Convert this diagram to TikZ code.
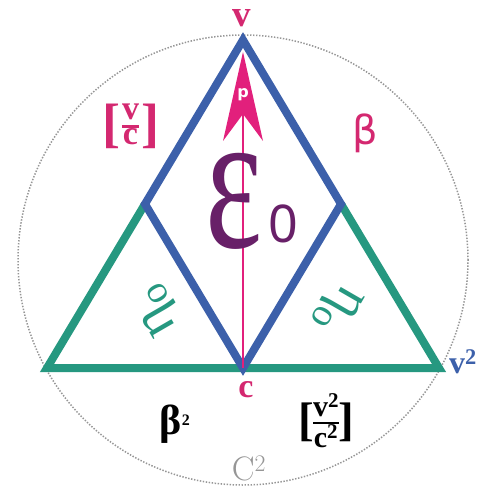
\documentclass[tikz,border=0pt]{standalone}
\usepackage{fontspec}
\setmainfont{Latin Modern Roman}
\newfontfamily\lsf{Liberation Serif}
\newfontfamily\dvs{DejaVu Sans}
\newfontfamily\nsans{Noto Sans}
\definecolor{mag}{RGB}{212,40,112}
\definecolor{arrmag}{RGB}{226,32,124}
\definecolor{blueL}{RGB}{60,96,170}
\definecolor{greenL}{RGB}{38,152,128}
\definecolor{purp}{RGB}{104,32,104}
\definecolor{circgray}{RGB}{150,150,150}
\newcommand{\myfrac}[3]{{\setlength{\arrayrulewidth}{#3}\setlength{\tabcolsep}{0pt}\renewcommand{\arraystretch}{0.62}\begin{tabular}{c}#1\\\hline #2\end{tabular}}}
\tikzset{
  lab/.style={inner sep=0pt, outer sep=0pt},
  edgeblue/.style={draw=blueL, line width=8pt, line join=miter},
  edgegreen/.style={draw=greenL, line width=8pt, line join=miter},
  dotcirc/.style={draw=circgray, line width=1.5pt, dash pattern=on 1.4pt off 1.6pt},
}
\begin{document}
\begin{tikzpicture}[x=1pt,y=-1pt]
\useasboundingbox (0,0) rectangle (476,494);
\fill[white] (0,0) rectangle (476,494);
% geometry
\coordinate (V) at (243,40);
\coordinate (L) at (145,204);
\coordinate (R) at (341,204);
\coordinate (C) at (243,368);
\coordinate (BL) at (47,368);
\coordinate (BR) at (439,368);
\coordinate (O) at (243,260);
% circle
\draw[dotcirc] (O) circle[radius=225pt];
% green
\draw[edgegreen] (L) -- (BL) -- (BR) -- (R);
% blue rhombus
\draw[edgeblue] (V) -- (L) -- (C) -- (R) -- cycle;
% arrow
\coordinate (tip) at (243,52);
\coordinate (bl) at (223,141);
\coordinate (br) at (263,141);
\coordinate (notch) at (243,114);
\draw[arrmag, line width=1.6pt] (C) -- (notch);
\fill[arrmag] (tip) -- (br) -- (notch) -- (bl) -- cycle;
\node[lab, text=white, font=\dvs\bfseries\fontsize{16}{16}\selectfont] (p) at (243,95) {p};
% labels
\node[lab, text=mag, font=\lsf\bfseries\fontsize{37}{37}\selectfont] (vtop) at (242,18) {v};
\node[lab, text=mag, font=\lsf\bfseries\fontsize{34}{34}\selectfont] (cbot) at (246,390) {c};
\node[lab, text=mag, font=\dvs\fontsize{40}{40}\selectfont] (beta) at (365,133) {β};
% [v/c]
\node[lab, text=mag, font=\lsf\bfseries\fontsize{54}{54}\selectfont] (lbr1) at (111,126) {[};
\node[lab, text=mag, font=\lsf\bfseries\fontsize{54}{54}\selectfont] (rbr1) at (150,126) {]};
\node[lab, text=mag, font=\lsf\bfseries\fontsize{34}{34}\selectfont] (vc1) at (130.5,127) {\myfrac{v}{c}{2.6pt}};
% epsilon
\node[lab, text=purp] (eps) at (234,201) {\scalebox{0.68}[1]{\lsf\fontsize{200}{200}\selectfont ε}};
\node[lab, text=purp, font=\nsans\fontsize{52}{52}\selectfont] (zero) at (283,224) {0};
% eta labels
\node[lab, text=greenL, rotate=120, font=\lsf\fontsize{56}{56}\selectfont] (etaL) at (158,310) {η\textsubscript{o}};
\node[lab, text=greenL, rotate=240, font=\lsf\fontsize{56}{56}\selectfont] (etaR) at (337,308) {η\textsubscript{o}};
% v^2 right
\node[lab, text=blueL, anchor=west, font=\lsf\bfseries\fontsize{32}{32}\selectfont] (v2) at (449,362) {v\textsuperscript{2}};
% beta^2
\node[lab, font=\lsf\bfseries\fontsize{42}{42}\selectfont] (beta2) at (175,424) {β\textsuperscript{\fontsize{16}{16}\selectfont 2}};
% [v^2/c^2]
\node[lab, font=\lsf\bfseries\fontsize{47}{47}\selectfont] (lbr2) at (306,422) {[};
\node[lab, font=\lsf\bfseries\fontsize{47}{47}\selectfont] (rbr2) at (346,422) {]};
\node[lab, font=\lsf\bfseries\fontsize{30}{30}\selectfont] (vc2) at (326,423) {\myfrac{v\textsuperscript{2}}{c\textsuperscript{2}}{2.2pt}};
% C^2
\node[lab, text=circgray, font=\fontsize{34}{34}\selectfont] (C2) at (249,468) {C\textsuperscript{2}};
\end{tikzpicture}
\end{document}
